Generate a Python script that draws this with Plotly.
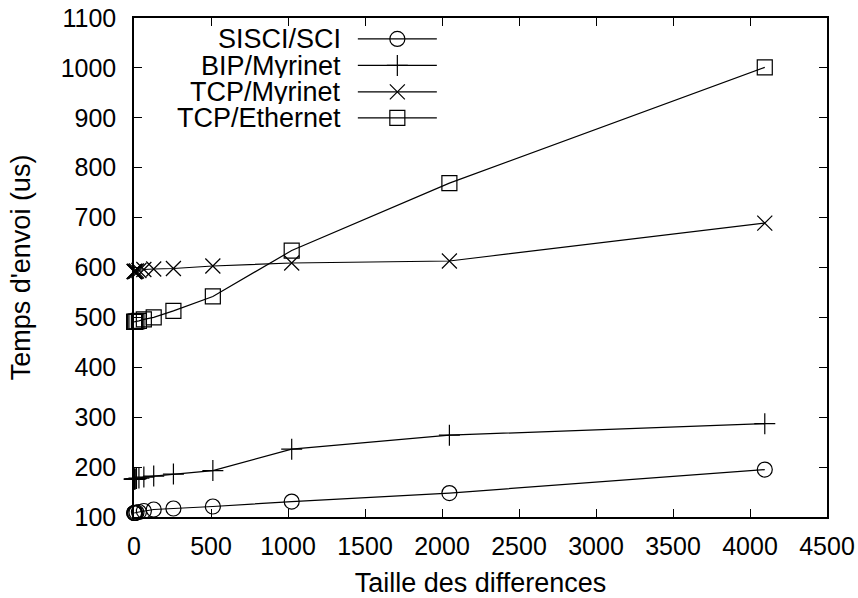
import plotly.graph_objects as go

# ---- data ----
sizes = [1, 2, 4, 8, 16, 32, 64, 128, 256, 512, 1024, 2048, 4096]
series_names = ["SISCI/SCI", "BIP/Myrinet", "TCP/Myrinet", "TCP/Ethernet"]
sisci_sci = [108, 108, 108, 108, 109, 110, 112, 115, 117, 121, 131, 148, 195]
bip_myrinet = [176, 176, 176, 176, 177, 178, 180, 182, 186, 193, 236, 264, 287]
tcp_myrinet = [592, 592, 592, 592, 593, 594, 596, 597, 598, 603, 609, 613, 689]
tcp_ethernet = [491, 491, 491, 491, 492, 493, 496, 500, 513, 542, 634, 769, 1001]
x_ticks = [0, 500, 1000, 1500, 2000, 2500, 3000, 3500, 4000, 4500]
y_ticks = [100, 200, 300, 400, 500, 600, 700, 800, 900, 1000, 1100]

symbols = ["circle-open", "cross-thin-open", "x-thin-open", "square-open"]
values = [sisci_sci, bip_myrinet, tcp_myrinet, tcp_ethernet]

FONT = "Liberation Sans, Arial, Helvetica, sans-serif"
FS = 25
FT = 27
FK = 27
MS = 15

fig = go.Figure()
for name, vals, sym in zip(series_names, values, symbols):
    fig.add_trace(go.Scatter(
        x=sizes, y=vals, name=name, mode="lines+markers",
        line=dict(color="black", width=1.2),
        marker=dict(symbol=sym, size=MS, color="black",
                    line=dict(color="black", width=1.2)),
        showlegend=False, cliponaxis=False,
    ))

# ---- gnuplot-style key (text right aligned, sample to the right) ----
key_rows = [0.958, 0.905, 0.852, 0.800]
key_text_x = 0.300
key_line = (0.323, 0.437)
key_mark_x = 0.380
for name, sym, ky in zip(series_names, symbols, key_rows):
    fig.add_annotation(x=key_text_x, y=ky, xref="paper", yref="paper",
                       text=name, showarrow=False, xanchor="right",
                       yanchor="middle", borderpad=0, height=25,
                       valign="middle",
                       font=dict(family=FONT, size=FK, color="black"))
    fig.add_shape(type="line", xref="paper", yref="paper",
                  x0=key_line[0], x1=key_line[1], y0=ky, y1=ky,
                  line=dict(color="black", width=1.2))
    fig.add_trace(go.Scatter(
        x=[key_mark_x], y=[ky], xaxis="x2", yaxis="y2", mode="markers",
        marker=dict(symbol=sym, size=MS, color="black",
                    line=dict(color="black", width=1.2)),
        showlegend=False, hoverinfo="skip", cliponaxis=False,
    ))

axis_common = dict(
    showgrid=False, zeroline=False, showline=True, linecolor="black",
    linewidth=1.5, mirror="ticks", ticks="inside", ticklen=8,
    tickcolor="black", tickwidth=1.2, automargin=False,
    ticklabeloverflow="allow",
    tickfont=dict(family=FONT, size=FS, color="black"),
)

fig.update_layout(
    width=858, height=598,
    margin=dict(l=134, r=31, t=18, b=81),
    paper_bgcolor="white", plot_bgcolor="white",
    font=dict(family=FONT, size=FS, color="black"),
    xaxis=dict(range=[0, 4500], tickvals=x_ticks, ticklabelstandoff=6,
               title=dict(text="Taille des differences", standoff=16,
                          font=dict(family=FONT, size=FT)),
               **axis_common),
    yaxis=dict(range=[100, 1100], tickvals=y_ticks, ticklabelstandoff=11,
               title=dict(text="Temps d'envoi (us)", standoff=22,
                          font=dict(family=FONT, size=FT)),
               **axis_common),
    xaxis2=dict(overlaying="x", range=[0, 1], visible=False),
    yaxis2=dict(overlaying="y", range=[0, 1], visible=False),
)

fig.write_html("out.html",
               config={"displayModeBar": False},
               post_script="document.body.style.margin='0';document.body.style.overflow='hidden';")
